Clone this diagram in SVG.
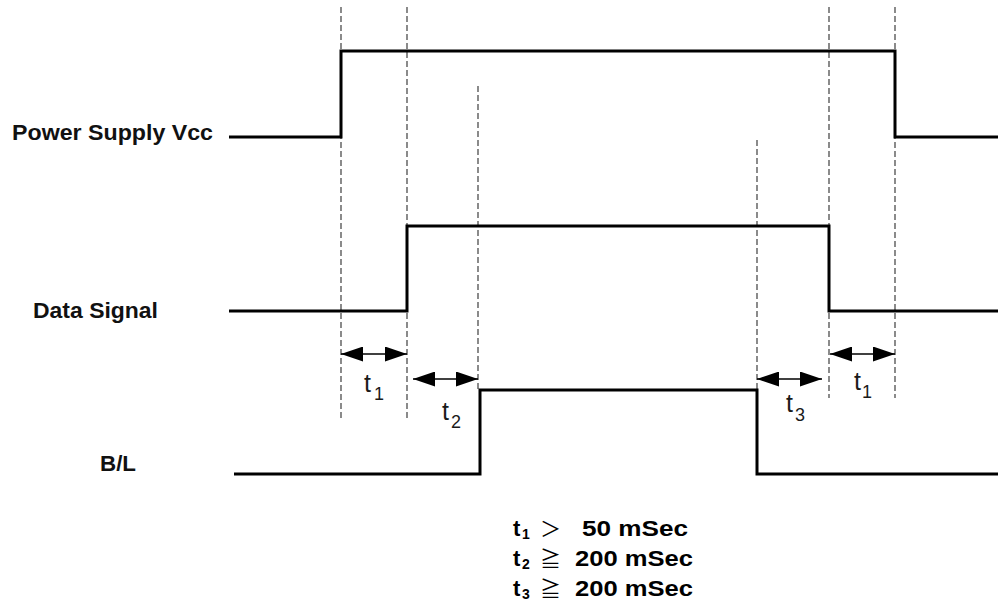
<svg xmlns="http://www.w3.org/2000/svg" width="998" height="609" viewBox="0 0 998 609">
<style>
.sig{fill:none;stroke:#000;stroke-width:3;stroke-linejoin:miter}
.dash{fill:none;stroke:#6e6e6e;stroke-width:1.6;stroke-dasharray:6,3}
.arr{fill:none;stroke:#000;stroke-width:1.6;marker-start:url(#ah);marker-end:url(#ah)}
.lbl{font-family:"Liberation Sans",Arial,sans-serif;font-weight:bold;font-size:22px;fill:#111}
.t{font-family:"Liberation Sans",Arial,sans-serif;font-size:25px;fill:#1a1a1a}
.ts{font-family:"Liberation Sans",Arial,sans-serif;font-size:18px;fill:#1a1a1a}
.b{font-family:"Liberation Sans",Arial,sans-serif;font-weight:bold;font-size:22px;fill:#000}
.bs{font-family:"Liberation Sans",Arial,sans-serif;font-weight:bold;font-size:14px;fill:#000}
.sym{font-family:"Noto Sans CJK JP","DejaVu Sans",sans-serif;font-size:21px;fill:#000}
</style>
<defs>
<marker id="ah" viewBox="0 0 22 15" refX="22" refY="7.5" markerWidth="22" markerHeight="15" markerUnits="userSpaceOnUse" orient="auto-start-reverse">
<path d="M0,0 L22,7.5 L0,15 Z" fill="#000"/>
</marker>
</defs>
<g id="guides">
<line class="dash" x1="341" y1="7" x2="341" y2="420"/>
<line class="dash" x1="407" y1="7" x2="407" y2="420"/>
<line class="dash" x1="478" y1="86" x2="478" y2="390"/>
<line class="dash" x1="757" y1="140" x2="757" y2="390"/>
<line class="dash" x1="829" y1="7" x2="829" y2="398"/>
<line class="dash" x1="895" y1="7" x2="895" y2="398"/>
</g>
<g id="power">
<text class="lbl" x="12" y="140" textLength="201" lengthAdjust="spacingAndGlyphs">Power Supply Vcc</text>
<path class="sig" d="M229 137 H341 V51 H895 V137 H998"/>
</g>
<g id="data">
<text class="lbl" x="33" y="318" textLength="125" lengthAdjust="spacingAndGlyphs">Data Signal</text>
<path class="sig" d="M229 311 H407 V226 H829 V311 H998"/>
</g>
<g id="bl">
<text class="lbl" x="100" y="471" textLength="36" lengthAdjust="spacingAndGlyphs">B/L</text>
<path class="sig" d="M234 474 H480 V390 H757 V474 H998"/>
</g>
<g id="connectors">
<line class="arr" x1="341" y1="354" x2="407" y2="354"/>
<line class="arr" x1="413" y1="379" x2="478" y2="379"/>
<line class="arr" x1="757" y1="379" x2="822" y2="379"/>
<line class="arr" x1="830" y1="354" x2="895" y2="354"/>
</g>
<g id="timing-labels">
<text class="t" x="364" y="392">t</text><text class="ts" x="374" y="400">1</text>
<text class="t" x="442" y="420">t</text><text class="ts" x="451" y="428">2</text>
<text class="t" x="786" y="412">t</text><text class="ts" x="795" y="421">3</text>
<text class="t" x="854" y="390">t</text><text class="ts" x="862" y="398">1</text>
</g>
<g id="legend">
<text class="b" x="513" y="536">t</text><text class="bs" x="522" y="539">1</text>
<text class="sym" x="540" y="536">＞</text>
<text class="b" x="582" y="536" textLength="106" lengthAdjust="spacingAndGlyphs">50 mSec</text>
<text class="b" x="513" y="566">t</text><text class="bs" x="522" y="569">2</text>
<text class="sym" x="540" y="566">≧</text>
<text class="b" x="575" y="566" textLength="118" lengthAdjust="spacingAndGlyphs">200 mSec</text>
<text class="b" x="513" y="596">t</text><text class="bs" x="522" y="599">3</text>
<text class="sym" x="540" y="596">≧</text>
<text class="b" x="575" y="596" textLength="118" lengthAdjust="spacingAndGlyphs">200 mSec</text>
</g>
</svg>
